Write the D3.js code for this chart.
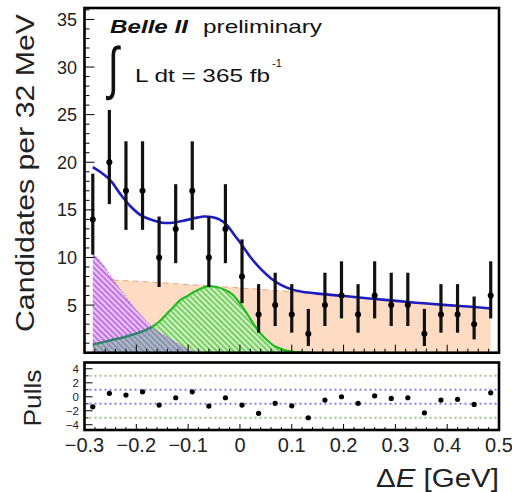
<!DOCTYPE html>
<html><head><meta charset="utf-8">
<script src="https://cdn.jsdelivr.net/npm/d3@7"></script>
<style>body{margin:0;background:#fff}svg{display:block}text{font-family:"Liberation Sans",Arial,sans-serif}</style>
</head><body><svg id="c" width="512" height="492"></svg>
<script>
// ---- data ----
const binCenters = [-0.284,-0.252,-0.220,-0.188,-0.156,-0.124,-0.092,-0.060,-0.028,0.004,0.036,0.068,0.100,0.132,0.164,0.196,0.228,0.260,0.292,0.324,0.356,0.388,0.420,0.452,0.484];
const counts = [14,20,17,17,10,13,17,10,13,8,4,5,4,2,5,6,4,6,5,5,2,4,4,3,6];
const errHigh = [4.8,5.5,5.2,5.2,4.3,4.7,5.2,4.3,4.7,3.9,3.2,3.4,3.2,2.6,3.4,3.6,3.2,3.6,3.4,3.4,2.6,3.2,3.2,2.9,3.6];
const errLow  = [3.7,4.4,4.1,4.1,3.1,3.6,4.1,3.1,3.6,2.8,1.9,2.2,1.9,1.3,2.2,2.4,1.9,2.4,2.2,2.2,1.3,1.9,1.9,1.6,2.4];
const pulls = [-1.43,0.49,0.24,0.71,-1.19,-0.14,0.71,-1.33,-0.14,-1.19,-2.37,-0.94,-1.29,-3.0,-0.47,0,-0.94,0.14,-0.23,-0.14,-2.29,-0.47,-0.37,-1.09,0.57];

const totalX = [-0.284,-0.27,-0.25,-0.23,-0.21,-0.19,-0.17,-0.15,-0.13,-0.11,-0.09,-0.07,-0.055,-0.04,-0.025,-0.01,0.0,0.02,0.04,0.06,0.08,0.10,0.12,0.16,0.22,0.28,0.34,0.40,0.44,0.484];
const totalY = [19.5,19.0,18.1,16.6,15.3,14.4,13.95,13.65,13.65,13.85,14.1,14.3,14.25,14.0,13.4,12.3,11.6,10.05,8.8,7.8,7.1,6.65,6.4,6.15,5.85,5.55,5.25,5.0,4.85,4.65];

const combX = [-0.284,-0.2,-0.1,0.0,0.1,0.2,0.3,0.4,0.484];
const combY = [7.7,7.5,7.15,6.8,6.4,5.95,5.4,5.0,4.6];

const peakX = [-0.284,-0.26,-0.244,-0.225,-0.206,-0.188,-0.170,-0.155,-0.141,-0.125,-0.109,-0.095,-0.085];
const peakY = [10.45,8.9,7.6,6.2,4.85,3.75,2.7,2.1,1.65,1.1,0.6,0.2,0];

const sigX = [-0.284,-0.25,-0.21,-0.185,-0.17,-0.155,-0.141,-0.128,-0.116,-0.10,-0.09,-0.075,-0.061,-0.045,-0.033,-0.022,-0.013,-0.003,0.007,0.017,0.026,0.035,0.045,0.055,0.065,0.075,0.084,0.10,0.12,0.14];
const sigY = [0.85,1.3,1.85,2.3,2.7,3.3,4.1,4.8,5.5,6.0,6.35,6.75,7.0,6.9,6.7,6.4,6.05,5.4,4.65,3.8,3.05,2.35,1.7,1.2,0.75,0.5,0.3,0.12,0.03,0];

const yTicksMain = [5,10,15,20,25,30,35];
const xTickLabels = ["\u22120.3","\u22120.2","\u22120.1","0","0.1","0.2","0.3","0.4","0.5"];
const xTickVals = [-0.3,-0.2,-0.1,0,0.1,0.2,0.3,0.4,0.5];
const pullTickVals = [4,2,0,-2,-4];
const pullTickLabels = ["4","2","0","\u22122","\u22124"];

// ---- layout ----
const svg = d3.select("#c");
const L = 84.5, R = 499, T = 8, B = 352.7, PT = 362.5, PB = 430;
const x = d3.scaleLinear().domain([-0.3,0.5]).range([L,R]);
const y = d3.scaleLinear().domain([0,36.2]).range([B,T]);
const yp = d3.scaleLinear().domain([-4.75,4.9]).range([PB,PT]);

const defs = svg.append("defs");
function hatch(id, bg, fg, rot){
  const p = defs.append("pattern").attr("id",id).attr("patternUnits","userSpaceOnUse")
    .attr("width",4).attr("height",4).attr("patternTransform",`rotate(${rot})`);
  p.append("rect").attr("width",4).attr("height",4).attr("fill",bg);
  p.append("line").attr("x1",1).attr("y1",0).attr("x2",1).attr("y2",4).attr("stroke",fg).attr("stroke-width",1.4);
}
hatch("hPurple","#e9c6f4","#b250dc",-45);
hatch("hGreen","#d2f2c0","#52c044",-45);
hatch("hGray","#b0b8ca","#76849f",-45);

const zip = (xs,ys)=>xs.map((v,i)=>[v,ys[i]]);
const area = d3.area().x(d=>x(d[0])).y0(y(0)).y1(d=>y(d[1])).curve(d3.curveMonotoneX);
const line = d3.line().x(d=>x(d[0])).y(d=>y(d[1])).curve(d3.curveMonotoneX);

const g = svg.append("g");
// combinatorial background
g.append("path").attr("d",area(zip(combX,combY))).attr("fill","#fddcc3");
g.append("path").attr("d",line(zip(combX,combY))).attr("fill","none").attr("stroke","#eea47c").attr("stroke-width",1).attr("stroke-dasharray","6,4");
// signal
g.append("path").attr("d",area(zip(sigX,sigY))).attr("fill","url(#hGreen)");
// peaking background
defs.append("clipPath").attr("id","clipPeak").append("path").attr("d",area(zip(peakX,peakY)));
g.append("path").attr("d",area(zip(peakX,peakY))).attr("fill","url(#hPurple)");
g.append("path").attr("d",area(zip(sigX,sigY))).attr("fill","url(#hGray)").attr("clip-path","url(#clipPeak)");
g.append("path").attr("d",line(zip(peakX,peakY))).attr("fill","none").attr("stroke","#b968e0").attr("stroke-width",1).attr("stroke-dasharray","2,2");
g.append("path").attr("d",line(zip(sigX,sigY))).attr("fill","none").attr("stroke","#22bb22").attr("stroke-width",2.2);
g.append("path").attr("d",line(zip(sigX,sigY))).attr("fill","none").attr("stroke","#3f7a7c").attr("stroke-width",2.2).attr("clip-path","url(#clipPeak)");
// total fit
g.append("path").attr("d",d3.line().x(d=>x(d[0])).y(d=>y(d[1])).curve(d3.curveCatmullRom)(zip(totalX,totalY)))
  .attr("fill","none").attr("stroke","#1c1cc4").attr("stroke-width",2.6);

// data points
const pts = g.append("g");
binCenters.forEach((c,i)=>{
  pts.append("line").attr("x1",x(c)).attr("x2",x(c)).attr("y1",y(counts[i]+errHigh[i])).attr("y2",y(Math.max(0,counts[i]-errLow[i])))
    .attr("stroke","#111").attr("stroke-width",3.2);
  pts.append("circle").attr("cx",x(c)).attr("cy",y(counts[i])).attr("r",3).attr("fill","#000");
});

// axes ticks main
const tk = svg.append("g").attr("stroke","#000").attr("stroke-width",1);
d3.range(1,37).forEach(v=>{ if(y(v)<T+1) return; const len = v%5===0?10:5; tk.append("line").attr("x1",L).attr("x2",L+len).attr("y1",y(v)).attr("y2",y(v)); });
d3.range(-15,26).forEach(k=>{ const v=k*0.02; const len = (k%5===0)?8:4; tk.append("line").attr("x1",x(v)).attr("x2",x(v)).attr("y1",B).attr("y2",B-len);
  tk.append("line").attr("x1",x(v)).attr("x2",x(v)).attr("y1",PB).attr("y2",PB-(k%5===0?6:3)); });
d3.range(-4,5).forEach(v=>{ tk.append("line").attr("x1",L).attr("x2",L+(v%2===0?8:4)).attr("y1",yp(v)).attr("y2",yp(v)); });

svg.append("rect").attr("x",L).attr("y",T).attr("width",R-L).attr("height",B-T).attr("fill","none").attr("stroke","#000").attr("stroke-width",2.6);

// pull panel
const pg = svg.append("g");
[3,-3].forEach(v=>pg.append("line").attr("x1",L).attr("x2",R).attr("y1",yp(v)).attr("y2",yp(v)).attr("stroke","#9fc48a").attr("stroke-width",2).attr("stroke-dasharray","2,3"));
[1,-1].forEach(v=>pg.append("line").attr("x1",L).attr("x2",R).attr("y1",yp(v)).attr("y2",yp(v)).attr("stroke","#8a7ee0").attr("stroke-width",2).attr("stroke-dasharray","2,3"));
binCenters.forEach((c,i)=>pg.append("circle").attr("cx",x(c)).attr("cy",yp(pulls[i])).attr("r",2.6).attr("fill","#000"));
svg.append("rect").attr("x",L).attr("y",PT).attr("width",R-L).attr("height",PB-PT).attr("fill","none").attr("stroke","#000").attr("stroke-width",2.6);

// labels
const lab = svg.append("g").attr("fill","#222");
yTicksMain.forEach(v=>lab.append("text").attr("x",77).attr("y",y(v)+6.5).attr("text-anchor","end").attr("font-size",18).text(v));
xTickVals.forEach((v,i)=>lab.append("text").attr("x",x(v)).attr("y",452).attr("text-anchor","middle").attr("font-size",20).text(xTickLabels[i]));
pullTickVals.forEach((v,i)=>lab.append("text").attr("x",79).attr("y",yp(v)+4).attr("text-anchor","end").attr("font-size",11.5).text(pullTickLabels[i]));

lab.append("text").attr("transform","translate(34,173) rotate(-90)").attr("text-anchor","middle").attr("font-size",26)
  .attr("textLength",318).attr("lengthAdjust","spacingAndGlyphs").text("Candidates per 32 MeV");
lab.append("text").attr("transform","translate(41,398) rotate(-90)").attr("text-anchor","middle").attr("font-size",24)
  .attr("textLength",57).attr("lengthAdjust","spacingAndGlyphs").text("Pulls");
const xt = lab.append("text").attr("x",499).attr("y",487).attr("text-anchor","end").attr("font-size",25)
  .attr("textLength",123).attr("lengthAdjust","spacingAndGlyphs");
xt.append("tspan").text("\u0394");
xt.append("tspan").attr("font-style","italic").text("E");
xt.append("tspan").text(" [GeV]");

const ann = svg.append("g").attr("fill","#111");
ann.append("text").attr("x",110).attr("y",33).attr("font-size",18.5).attr("font-weight","bold").attr("font-style","italic")
  .attr("textLength",78).attr("lengthAdjust","spacingAndGlyphs").text("Belle II");
ann.append("text").attr("x",203).attr("y",33).attr("font-size",18.5)
  .attr("textLength",119).attr("lengthAdjust","spacingAndGlyphs").text("preliminary");
ann.append("text").attr("transform","translate(108,88) scale(1,1.45)").attr("font-family","DejaVu Sans").attr("font-size",40).text("\u222B");
ann.append("text").attr("x",135).attr("y",82).attr("font-size",18.5)
  .attr("textLength",135).attr("lengthAdjust","spacingAndGlyphs").text("L dt = 365 fb");
ann.append("text").attr("x",272).attr("y",67).attr("font-size",11).text("-1");
</script></body></html>
